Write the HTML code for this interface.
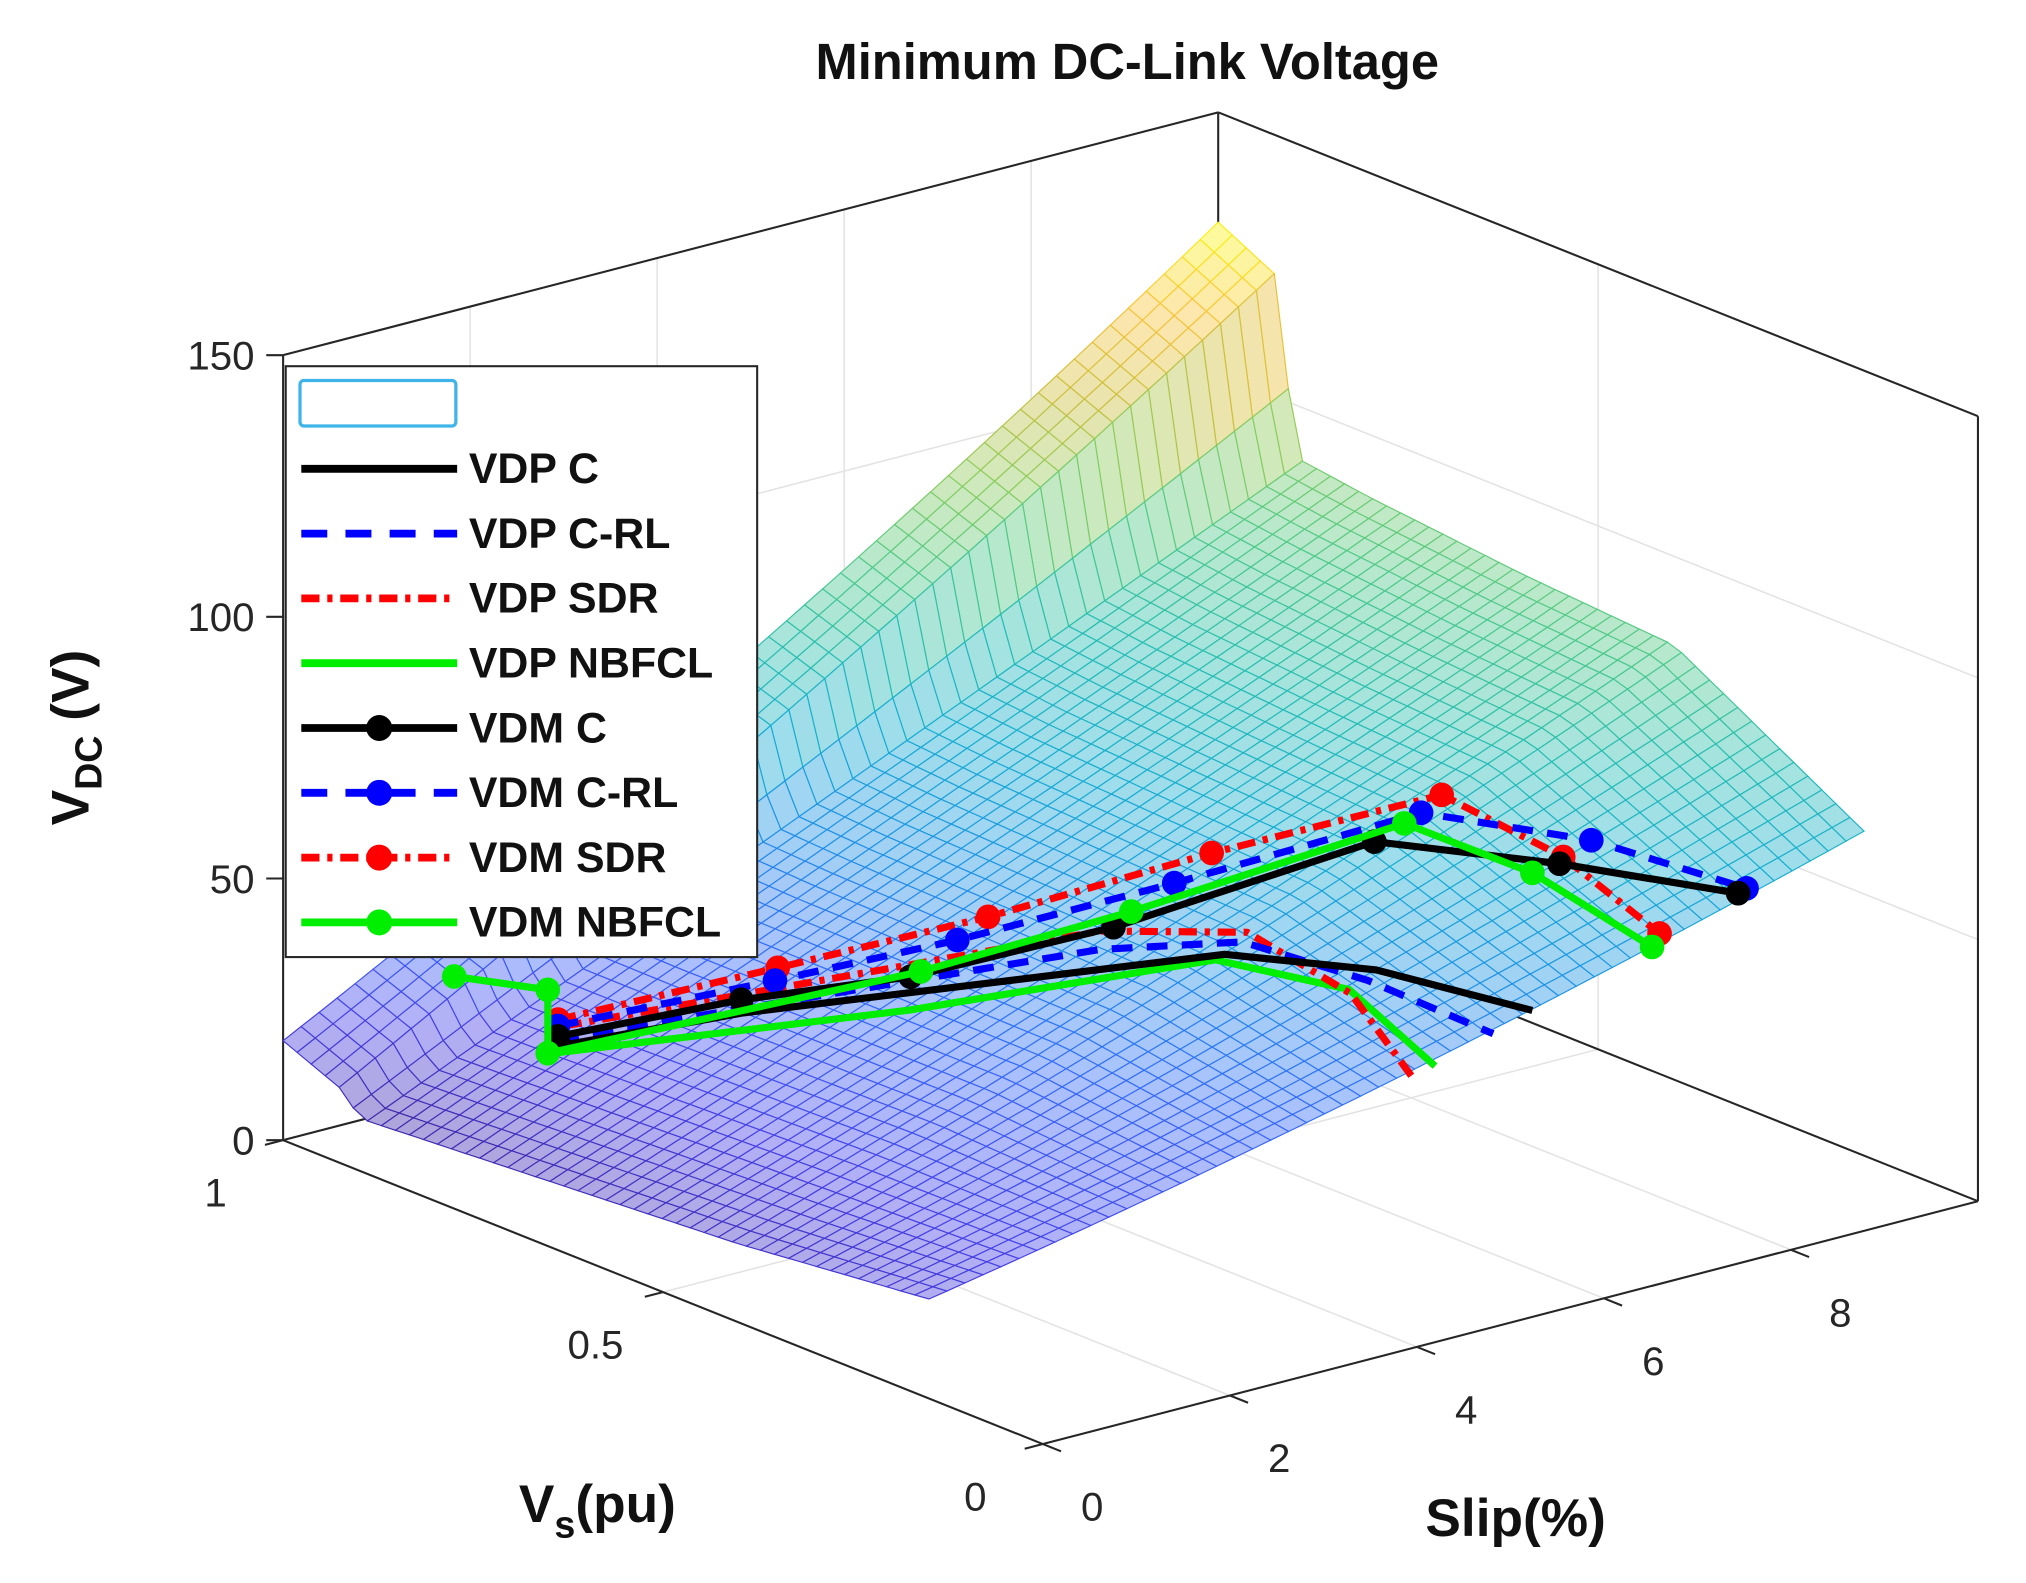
<!DOCTYPE html>
<html><head><meta charset="utf-8"><style>
html,body{margin:0;padding:0;background:#fff}
svg{display:block}
text{font-family:"Liberation Sans",Arial,sans-serif}
</style></head><body>
<svg id="chart" width="2026" height="1583" viewBox="0 0 1560 1219" preserveAspectRatio="none" xmlns="http://www.w3.org/2000/svg">
<g id="grid"></g>
<g id="box"></g>
<g id="surface"></g>
<g id="series"></g>
<g id="ticks"></g>
<text x="868" y="61" font-size="39" font-weight="bold" text-anchor="middle" fill="#111">Minimum DC-Link Voltage</text>
<text transform="translate(68,568) rotate(-90)" font-size="41" font-weight="bold" text-anchor="middle" fill="#111">V<tspan font-size="29" dy="10">DC</tspan><tspan dy="-10"> (V)</tspan></text>
<text x="460" y="1172" font-size="41" font-weight="bold" text-anchor="middle" fill="#111">V<tspan font-size="29" dy="12">s</tspan><tspan dy="-12">(pu)</tspan></text>
<text x="1167" y="1183" font-size="41" font-weight="bold" text-anchor="middle" fill="#111">Slip(%)</text>
<g id="legend"></g>
</svg>
<script>
// ---- data ----
const zTicks = [0, 50, 100, 150];
const vsTicks = [0, 0.5, 1];
const vsTickLabels = ["0", "0.5", "1"];
const slipTicks = [0, 2, 4, 6, 8];
const slipTickLabels = ["0", "2", "4", "6", "8"];

// surface: Vs grid and VDC at slip = 0, 5, 10
const surfVs = [0.15, 0.4, 0.6, 0.8, 0.9, 0.92, 1.0];
const surfZ0 = [19, 15, 13, 11, 10, 14, 19];
const surfZ5 = [38, 47, 48, 49, 50, 66, 70];
const surfZ10 = [62, 83, 85, 88, 90, 123, 129];

// series (all drawn in the Vs = 0.6 plane)
const seriesVs = 0.6;
const vdpCSlip = [-0.35, 1.67, 6.82, 8.44, 10.11];
const vdpCVdc = [42.7, 39.8, 27.1, 16.6, 1.1];
const vdpCRLSlip = [-0.31, 5.49, 7.01, 8.35, 9.69];
const vdpCRLVdc = [44.0, 34.2, 28.6, 15.0, -1.4];
const vdpSDRSlip = [-0.25, 5.49, 7.06, 8.17, 8.82];
const vdpSDRVdc = [46.2, 37.7, 30.2, 13.3, -5.5];
const vdpNBSlip = [-0.35, 3.44, 6.72, 8.15, 9.07];
const vdpNBVdc = [41.5, 32.1, 26.5, 14.2, -4.7];
const vdmCSlip = [-0.31, 1.65, 3.46, 5.63, 8.42, 10.40, 12.31];
const vdmCVdc = [44.5, 42.4, 38.4, 37.8, 41.2, 27.8, 13.3];
const vdmCRLSlip = [-0.31, 2.01, 3.96, 6.28, 8.92, 10.74, 12.40];
const vdmCRLVdc = [46.5, 44.4, 43.1, 43.2, 44.4, 30.7, 13.8];
const vdmSDRSlip = [-0.31, 2.04, 4.29, 6.68, 9.14, 10.44, 11.47];
const vdmSDRVdc = [47.7, 46.7, 46.0, 47.1, 46.8, 28.9, 9.5];
const vdmNBSlip = [-1.42, -0.42, -0.42, 3.57, 5.82, 8.74, 10.11, 11.39];
const vdmNBVdc = [61.1, 53.9, 41.8, 38.9, 39.9, 43.2, 27.4, 7.3];

// ---- projection (axis functions) ----
function P(s, v, z){ return [803 + 72*s - 585*v, 1112 - 18.7*s - 234*v - 4.03*z]; }
const NS = "http://www.w3.org/2000/svg";
function mk(tag, attrs, parent){ const e=document.createElementNS(NS,tag); for(const k in attrs) e.setAttribute(k,attrs[k]); parent.appendChild(e); return e; }
function line(a,b,st,w,parent,name){ const e=mk('line',{x1:a[0],y1:a[1],x2:b[0],y2:b[1],stroke:st,'stroke-width':w},parent);
  
  
  return e; }

// grid
const G=document.getElementById('grid'), gc="#e3e3e3";
slipTicks.forEach(s=>{ line(P(s,1,0),P(s,1,150),gc,1.2,G,'grid-line'); line(P(s,0,0),P(s,1,0),gc,1.2,G,'grid-line'); });
zTicks.forEach(z=>{ line(P(0,1,z),P(10,1,z),gc,1.2,G,'grid-line'); line(P(10,0,z),P(10,1,z),gc,1.2,G,'grid-line'); });
vsTicks.forEach(v=>{ line(P(10,v,0),P(10,v,150),gc,1.2,G,'grid-line'); line(P(0,v,0),P(10,v,0),gc,1.2,G,'grid-line'); });

// box
const B=document.getElementById('box'), bc="#262626";
[[P(0,1,0),P(0,1,150)],[P(10,0,0),P(10,0,150)],[P(10,1,0),P(10,1,150)],
 [P(0,1,150),P(10,1,150)],[P(10,1,150),P(10,0,150)],
 [P(0,1,0),P(0,0,0)],[P(0,0,0),P(10,0,0)],[P(0,1,0),P(10,1,0)],[P(10,1,0),P(10,0,0)]]
 .forEach(e=>line(e[0],e[1],bc,1.6,B,'axis-box-edge'));

// surface
const parula=[[62,38,168],[71,65,233],[53,106,252],[31,145,230],[23,173,209],[38,189,178],[79,201,137],[138,204,94],[204,191,61],[250,196,58],[249,251,14]];
function cmap(t){ t=Math.max(0,Math.min(1,t))*(parula.length-1); const i=Math.min(parula.length-2,Math.floor(t)), f=t-i;
  return parula[i].map((c,k)=>c+(parula[i+1][k]-c)*f); }
function interpV(arr,v){ for(let i=0;i<surfVs.length-1;i++){ if(v<=surfVs[i+1]){ const f=(v-surfVs[i])/(surfVs[i+1]-surfVs[i]); return arr[i]+(arr[i+1]-arr[i])*f; } } return arr[arr.length-1]; }
function surfZ(s,v){ const a=interpV(surfZ0,v), b=interpV(surfZ5,v), c=interpV(surfZ10,v); const t=s/10;
  return a*(1-t)*(1-2*t)+b*4*t*(1-t)+c*t*(2*t-1); }
const S=document.getElementById('surface');
const ns=52, nv=46, vmin=surfVs[0], vmax=surfVs[surfVs.length-1];
const zmin=Math.min(...surfZ0,...surfZ5,...surfZ10), zmax=Math.max(...surfZ0,...surfZ5,...surfZ10);
const quads=[];
for(let i=0;i<ns;i++) for(let j=0;j<nv;j++){
  const s0=10*i/ns, s1=10*(i+1)/ns, v0=vmin+(vmax-vmin)*j/nv, v1=vmin+(vmax-vmin)*(j+1)/nv;
  const pts=[[s0,v0],[s1,v0],[s1,v1],[s0,v1]].map(p=>{const z=surfZ(p[0],p[1]); return {p:P(p[0],p[1],z),z};});
  quads.push({d:(s0+s1)/20+(v0+v1)/2, pts});
}
quads.sort((a,b)=>b.d-a.d);
quads.forEach(q=>{
  const zm=q.pts.reduce((a,b)=>a+b.z,0)/4; const c=cmap((zm-zmin)/(zmax-zmin));
  const fill=`rgb(${c.map(x=>Math.round(x*0.42+255*0.58)).join(',')})`, st=`rgb(${c.map(Math.round).join(',')})`;
  const e=mk('polygon',{points:q.pts.map(p=>p.p[0].toFixed(1)+','+p.p[1].toFixed(1)).join(' '),fill,stroke:st,'stroke-width':0.9},S);
  
  
});

// series
const R=document.getElementById('series');
const styles={
  black:{c:"#000",dash:null}, blue:{c:"#0000ff",dash:"16 11"}, red:{c:"#ff0000",dash:"14 6 4 6"}, green:{c:"#00ee00",dash:null}
};
function drawSeries(name, slip, vdc, st, markers){
  const pts=slip.map((s,i)=>P(s,seriesVs,vdc[i]));
  const pl=mk('polyline',{points:pts.map(p=>p[0].toFixed(1)+','+p[1].toFixed(1)).join(' '),fill:'none',stroke:st.c,'stroke-width':5.5,'stroke-linejoin':'round'},R);
  if(st.dash) pl.setAttribute('stroke-dasharray',st.dash);
  
  
  if(markers) pts.forEach(p=>{ const m=mk('circle',{cx:p[0],cy:p[1],r:9.5,fill:st.c},R);
    
     });
}
drawSeries('vdp-nbfcl-line', vdpNBSlip, vdpNBVdc, styles.green, false);
drawSeries('vdp-sdr-line', vdpSDRSlip, vdpSDRVdc, styles.red, false);
drawSeries('vdp-c-rl-line', vdpCRLSlip, vdpCRLVdc, styles.blue, false);
drawSeries('vdp-c-line', vdpCSlip, vdpCVdc, styles.black, false);
drawSeries('vdm-sdr-line', vdmSDRSlip, vdmSDRVdc, styles.red, true);
drawSeries('vdm-c-rl-line', vdmCRLSlip, vdmCRLVdc, styles.blue, true);
drawSeries('vdm-c-line', vdmCSlip, vdmCVdc, styles.black, true);
drawSeries('vdm-nbfcl-line', vdmNBSlip, vdmNBVdc, styles.green, true);

// ticks
const T=document.getElementById('ticks');
function txt(x,y,s,anchor,parent,name){ const e=mk('text',{x,y,'font-size':31,fill:'#262626','text-anchor':anchor},parent); e.textContent=s;
  
   return e; }
zTicks.forEach(z=>{ const p=P(0,1,z); line(p,[p[0]-13,p[1]],bc,1.6,T,'z-tick'); txt(p[0]-22,p[1]+11,String(z),'end',T,'z-tick-label'); });
vsTicks.forEach((v,i)=>{ const p=P(0,v,0); line(p,[p[0]-14,p[1]+3.6],bc,1.6,T,'vs-tick'); txt(p[0]-52,p[1]+51,vsTickLabels[i],'middle',T,'vs-tick-label'); });
slipTicks.forEach((s,i)=>{ const p=P(s,0,0); line(p,[p[0]+14,p[1]+5.6],bc,1.6,T,'slip-tick'); txt(p[0]+38,p[1]+59,slipTickLabels[i],'middle',T,'slip-tick-label'); });

// legend
const L=document.getElementById('legend');
const lb=mk('rect',{x:220,y:282,width:363,height:455,fill:'#fff',stroke:'#262626','stroke-width':1.6},L);


const sw=mk('rect',{x:231,y:293,width:120,height:35,fill:'#fff',stroke:'#3fb4e8','stroke-width':2.5,rx:3},L);


const legLabels=["VDP C","VDP C-RL","VDP SDR","VDP NBFCL","VDM C","VDM C-RL","VDM SDR","VDM NBFCL"];
const legStyles=[styles.black,styles.blue,styles.red,styles.green,styles.black,styles.blue,styles.red,styles.green];
legLabels.forEach((lab,i)=>{
  const y=361+i*49.9, st=legStyles[i];
  const l=mk('line',{x1:232,y1:y,x2:352,y2:y,stroke:st.c,'stroke-width':6},L);
  if(st.dash) l.setAttribute('stroke-dasharray',st.dash==="16 11"?"20 14":st.dash);
  
  
  if(i>=4){ const m=mk('circle',{cx:292,cy:y,r:10,fill:st.c},L);
    
     }
  const t=mk('text',{x:361,y:y+11,'font-size':33,'font-weight':'bold',fill:'#111'},L); t.textContent=lab;
  
  
});
</script>
</body></html>
